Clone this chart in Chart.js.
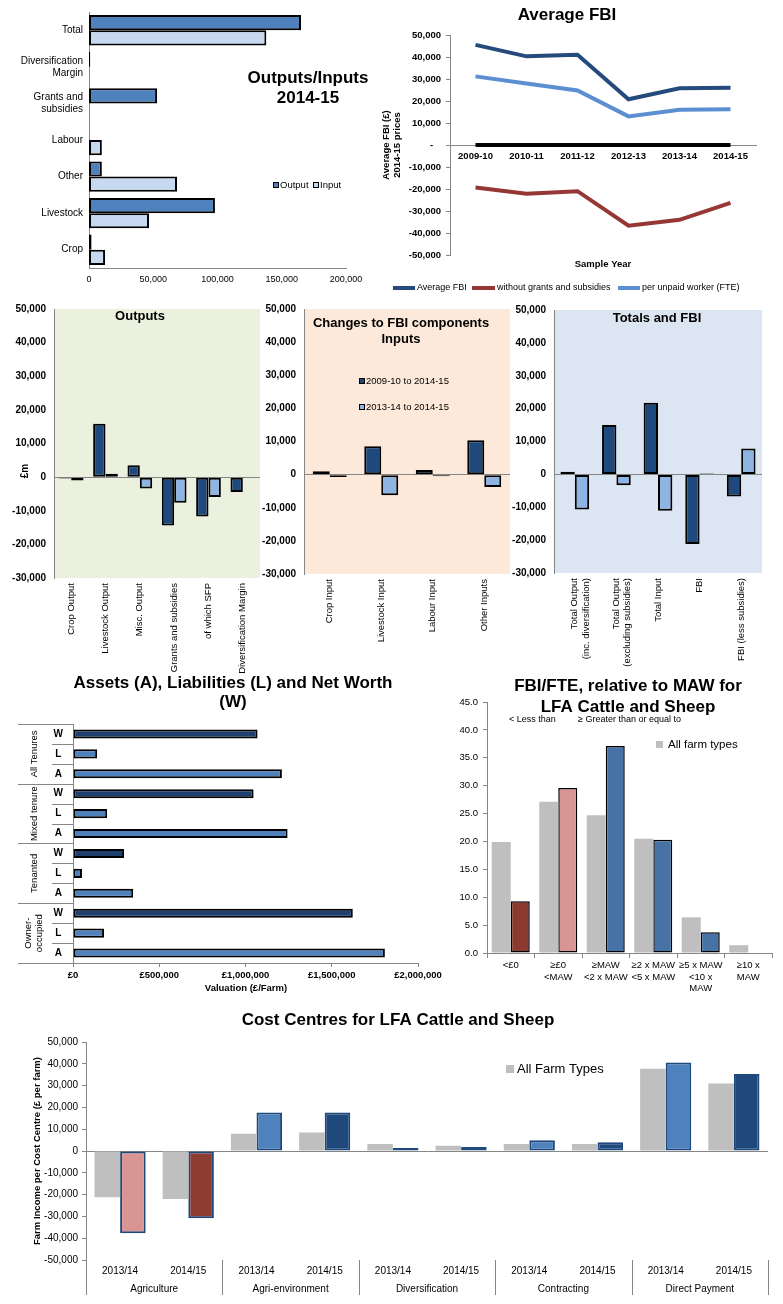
<!DOCTYPE html>
<html lang="en">
  <head>
    <meta charset="UTF-8" />
    <title>LFA Cattle and Sheep - farm business summary</title>
    <style>
      body { margin: 0; background: #fff; }
      .page { position: relative; width: 783px; height: 1304px; overflow: hidden; }
      .page canvas { position: absolute; }
    </style>
  </head>
  <body>
    <div class="page">
      <canvas id="io" width="380" height="290" style="left:0;top:0"></canvas>
      <canvas id="fbi" width="403" height="296" style="left:380px;top:0"></canvas>
      <canvas id="chgOut" width="260" height="380" style="left:0;top:295px"></canvas>
      <canvas id="chgIn" width="256" height="380" style="left:256px;top:295px"></canvas>
      <canvas id="chgTot" width="275" height="380" style="left:508px;top:295px"></canvas>
      <canvas id="awl" width="450" height="330" style="left:0;top:672px"></canvas>
      <canvas id="maw" width="353" height="330" style="left:430px;top:672px"></canvas>
      <canvas id="cost" width="783" height="299" style="left:0;top:1005px"></canvas>
    </div>

    <script src="https://cdn.jsdelivr.net/npm/chart.js"></script>
    <script>
      // ---- data ----
      // Outputs/Inputs 2014-15
      const ioSeries = ["Output", "Input"];
      const ioLabels = ["Total", ["Diversification", "Margin"], ["Grants and", "subsidies"], "Labour", "Other", "Livestock", "Crop"];
      const ioOutput = [165000, 1000, 53000, null, 10000, 98000, 2000];
      const ioInput = [138000, null, null, 10000, 68500, 46700, 12500];

      // Average FBI
      const fbiSeries = ["Average FBI", "without grants and subsidies", "per unpaid worker (FTE)"];
      const fbiYears = ["2009-10", "2010-11", "2011-12", "2012-13", "2013-14", "2014-15"];
      const fbiAverage = [45500, 40300, 41000, 20800, 25800, 26000];
      const fbiNoGrants = [-19300, -22200, -21000, -36700, -34000, -26300];
      const fbiPerWorker = [31200, 28000, 24800, 13000, 16000, 16300];
      const fbiZero = [0, 0, 0, 0, 0, 0];

      // Changes to FBI components
      const chgSeries = ["2009-10 to 2014-15", "2013-14 to 2014-15"];
      const outLabels = ["Crop Output", "Livestock Output", "Misc. Output", "Grants and subsidies", "of which SFP", "Diversification Margin"];
      const outLong = [-400, 15900, 3500, -14400, -11700, -4400];
      const outShort = [-1000, 1000, -3400, -7600, -5900, null];
      const inLabels = ["Crop Input", "Livestock Input", "Labour Input", "Other Inputs"];
      const inLong = [1000, 8600, 1400, 10400];
      const inShort = [-700, -6200, -500, -3700];
      const totLabels = [["Total Output", "(inc. diversification)"], ["Total Output", "(excluding subsidies)"], "Total Input", "FBI", "FBI (less subsidies)"];
      const totLong = [800, 15000, 21800, -21200, -6700];
      const totShort = [-10700, -3300, -11100, 300, 7900];

      // Assets, Liabilities and Net Worth
      const tenures = ["All Tenures", "Mixed tenure", "Tenanted", ["Owner-", "occupied"]];
      const awlRows = ["W", "L", "A"];
      const netWorth = [1070000, 1047000, 296000, 1622000];
      const liabilities = [140000, 198000, 52000, 180000];
      const assets = [1211000, 1244000, 349000, 1808000];

      // FBI/FTE relative to MAW
      const mawSeries = ["All farm types", "LFA Cattle and Sheep"];
      const mawBands = ["<£0", ["≥£0", "<MAW"], ["≥MAW", "<2 x MAW"], ["≥2 x MAW", "<5 x MAW"], ["≥5 x MAW", "<10 x", "MAW"], ["≥10 x", "MAW"]];
      const mawAllFarms = [19.9, 27.1, 24.7, 20.5, 6.4, 1.4];
      const mawLfa = [9.3, 29.6, 37.1, 20.3, 3.7, null];

      // Cost centres
      const ccSeries = ["All Farm Types", "LFA Cattle and Sheep"];
      const centres = ["Agriculture", "Agri-environment", "Diversification", "Contracting", "Direct Payment"];
      const ccYears = ["2013/14", "2014/15"];
      const ccAllFarms = [-21200, -22000, 7900, 8500, 3200, 2400, 3200, 3200, 37700, 31000];
      const ccLfa = [-37700, -30800, 17700, 17700, 1400, 1800, 4900, 4000, 40600, 35300];

      // ---- common setup ----
      const FONT = "'Liberation Sans', Arial, sans-serif";
      const AXIS = "#868686";
      Chart.defaults.font.family = FONT;
      Chart.defaults.font.size = 10;
      Chart.defaults.color = "#000";
      Chart.defaults.animation = false;
      Chart.defaults.plugins.legend.display = false;
      Chart.defaults.plugins.tooltip.enabled = false;

      const fmt = (v) => v.toLocaleString("en-US");

      // free text, swatches and lines (titles, legends) in canvas coords
      const notesPlugin = {
        id: "notes",
        afterDraw(chart, args, opts) {
          const ctx = chart.ctx;
          (opts.items || []).forEach((it) => {
            ctx.save();
            if (it.rect) {
              const [x, y, w, h] = it.rect;
              ctx.fillStyle = it.fill;
              ctx.fillRect(x, y, w, h);
              if (it.stroke) {
                ctx.strokeStyle = it.stroke;
                ctx.lineWidth = 1;
                ctx.strokeRect(x + 0.5, y + 0.5, w - 1, h - 1);
              }
            }
            if (it.line) {
              const [x1, y1, x2, y2] = it.line;
              ctx.strokeStyle = it.color;
              ctx.lineWidth = it.width || 1;
              ctx.beginPath();
              ctx.moveTo(x1, y1);
              ctx.lineTo(x2, y2);
              ctx.stroke();
            }
            if (it.text) {
              const size = it.size || 10;
              ctx.font = (it.bold ? "bold " : "") + size + "px " + FONT;
              ctx.fillStyle = it.color || "#000";
              ctx.textAlign = it.align || "left";
              ctx.textBaseline = "middle";
              ctx.translate(it.x, it.y);
              if (it.rot) ctx.rotate((it.rot * Math.PI) / 180);
              const lines = [].concat(it.text);
              const lh = it.lh || size * 1.2;
              lines.forEach((l, i) => ctx.fillText(l, 0, (i - (lines.length - 1) / 2) * lh));
            }
            ctx.restore();
          });
        },
      };

      const plotBgPlugin = {
        id: "plotBg",
        beforeDraw(chart, args, opts) {
          if (!opts.color) return;
          const a = chart.chartArea;
          chart.ctx.save();
          chart.ctx.fillStyle = opts.color;
          chart.ctx.fillRect(a.left, a.top, a.width, a.height);
          chart.ctx.restore();
        },
      };

      Chart.register(notesPlugin, plotBgPlugin);

      // ---- Outputs/Inputs 2014-15 ----
      new Chart(document.getElementById("io"), {
        type: "bar",
        data: {
          labels: ioLabels,
          datasets: [
            { label: ioSeries[0], data: ioOutput, backgroundColor: "#4F81BD" },
            { label: ioSeries[1], data: ioInput, backgroundColor: "#C6D9F1" },
          ],
        },
        options: {
          indexAxis: "y",
          responsive: false,
          layout: { padding: { top: 7, right: 34, left: 0, bottom: 0 } },
          datasets: {
            bar: { categoryPercentage: 0.83, barPercentage: 1, borderColor: "#000", borderWidth: 2, borderSkipped: false },
          },
          scales: {
            x: {
              min: 0,
              max: 200000,
              ticks: { stepSize: 50000, font: { size: 9 }, padding: 6, callback: fmt },
              grid: { display: false, drawTicks: false },
              border: { color: AXIS },
              afterFit: (s) => { s.height = 22; },
            },
            y: {
              ticks: { font: { size: 10 }, padding: 6, autoSkip: false },
              grid: { display: false, drawTicks: false },
              border: { color: AXIS },
              afterFit: (s) => { s.width = 89; },
            },
          },
          plugins: {
            notes: {
              items: [
                { text: ["Outputs/Inputs", "2014-15"], x: 308, y: 88, size: 17, bold: true, align: "center", lh: 20 },
                { rect: [273, 182, 6, 6], fill: "#4F81BD", stroke: "#000" },
                { text: ioSeries[0], x: 280, y: 185.5, size: 9.5 },
                { rect: [313, 182, 6, 6], fill: "#C6D9F1", stroke: "#000" },
                { text: ioSeries[1], x: 320, y: 185.5, size: 9.5 },
              ],
            },
          },
        },
      });

      // ---- Average FBI ----
      const fbiColors = ["#254A7C", "#953735", "#5B8FD2"];
      new Chart(document.getElementById("fbi"), {
        type: "line",
        data: {
          labels: fbiYears,
          datasets: [
            { label: fbiSeries[0], data: fbiAverage, borderColor: fbiColors[0], borderWidth: 4 },
            { label: fbiSeries[1], data: fbiNoGrants, borderColor: fbiColors[1], borderWidth: 4 },
            { label: fbiSeries[2], data: fbiPerWorker, borderColor: fbiColors[2], borderWidth: 4 },
            { label: "zero", data: fbiZero, borderColor: "#000", borderWidth: 4 },
          ],
        },
        options: {
          responsive: false,
          elements: { point: { radius: 0 }, line: { tension: 0 } },
          layout: { padding: { top: 35, right: 27, left: 0, bottom: 41 } },
          scales: {
            x: {
              position: { y: 0 },
              offset: true,
              grid: { display: false, drawTicks: false },
              border: { color: AXIS },
              ticks: { font: { size: 9.5, weight: "bold" }, padding: 6 },
            },
            y: {
              min: -50000,
              max: 50000,
              ticks: {
                stepSize: 10000,
                font: { size: 9.5, weight: "bold" },
                padding: 5,
                callback: (v) => (v === 0 ? "-   " : fmt(v)),
              },
              grid: { drawOnChartArea: false, tickLength: 4, color: AXIS },
              border: { color: AXIS },
              afterFit: (s) => { s.width = 70; },
            },
          },
          plugins: {
            notes: {
              items: [
                { text: "Average FBI", x: 187, y: 15, size: 17, bold: true, align: "center" },
                { text: ["Average FBI (£)", "2014-15 prices"], x: 12, y: 145, size: 9.5, bold: true, rot: -90, align: "center", lh: 10.5 },
                { text: "Sample Year", x: 223, y: 264, size: 9.5, bold: true, align: "center" },
                { line: [13, 288, 35, 288], color: fbiColors[0], width: 4 },
                { text: fbiSeries[0], x: 37, y: 288, size: 9 },
                { line: [92, 288, 115, 288], color: fbiColors[1], width: 4 },
                { text: fbiSeries[1], x: 117, y: 288, size: 9 },
                { line: [238, 288, 260, 288], color: fbiColors[2], width: 4 },
                { text: fbiSeries[2], x: 262, y: 288, size: 9 },
              ],
            },
          },
        },
      });

      // ---- Changes to FBI components (three panels) ----
      function changePanel(id, labels, longVals, shortVals, opt) {
        return new Chart(document.getElementById(id), {
          type: "bar",
          data: {
            labels: labels,
            datasets: [
              { label: chgSeries[0], data: longVals, backgroundColor: "#1F497D" },
              { label: chgSeries[1], data: shortVals, backgroundColor: "#8DB4E2" },
            ],
          },
          options: {
            responsive: false,
            layout: { padding: { top: opt.top, right: opt.right, left: 0, bottom: 0 } },
            datasets: {
              bar: { categoryPercentage: opt.cat, barPercentage: 1, borderColor: "#000", borderWidth: 2, borderSkipped: false },
            },
            scales: {
              x: {
                grid: { display: false, drawTicks: false },
                border: { display: false },
                ticks: { font: { size: 9.5 }, minRotation: 90, maxRotation: 90, autoSkip: false, padding: 5 },
                afterFit: (s) => { s.height = opt.xh; },
              },
              y: {
                min: -30000,
                max: 50000,
                ticks: { stepSize: 10000, font: { size: 10, weight: "bold" }, padding: 8, callback: fmt },
                grid: { drawTicks: false, color: (c) => (c.tick && c.tick.value === 0 ? AXIS : "transparent") },
                border: { color: AXIS },
                afterFit: (s) => { s.width = opt.yw; },
              },
            },
            plugins: { plotBg: { color: opt.bg }, notes: { items: opt.items } },
          },
        });
      }

      changePanel("chgOut", outLabels, outLong, outShort, {
        top: 11, right: 0, xh: 97, yw: 54, cat: 0.72, bg: "#EBF1DE",
        items: [
          { text: "Outputs", x: 140, y: 21, size: 13, bold: true, align: "center" },
          { text: "£m", x: 25, y: 176, size: 10, bold: true, rot: -90, align: "center" },
        ],
      });

      changePanel("chgIn", inLabels, inLong, inShort, {
        top: 14, right: 2, xh: 101, yw: 48, cat: 0.66, bg: "#FDE9D9",
        items: [
          { text: ["Changes to FBI components", "Inputs"], x: 145, y: 36, size: 13, bold: true, align: "center", lh: 16 },
          { rect: [103, 83, 6, 6], fill: "#1F497D", stroke: "#000" },
          { text: chgSeries[0], x: 110, y: 86, size: 9.5 },
          { rect: [103, 109, 6, 6], fill: "#8DB4E2", stroke: "#000" },
          { text: chgSeries[1], x: 110, y: 112, size: 9.5 },
        ],
      });

      changePanel("chgTot", totLabels, totLong, totShort, {
        top: 15, right: 21, xh: 102, yw: 46, cat: 0.69, bg: "#DCE6F2",
        items: [{ text: "Totals and FBI", x: 149, y: 23, size: 13, bold: true, align: "center" }],
      });

      // ---- Assets (A), Liabilities (L) and Net Worth (W) ----
      const awlLabels = tenures.flatMap(() => awlRows);
      const awlValues = tenures.flatMap((t, i) => [netWorth[i], liabilities[i], assets[i]]);

      const tenureGroups = {
        id: "tenureGroups",
        afterDraw(chart) {
          const { ctx, chartArea } = chart;
          const y = chart.scales.y;
          const rowH = y.getPixelForValue(1) - y.getPixelForValue(0);
          ctx.save();
          ctx.strokeStyle = AXIS;
          ctx.lineWidth = 1;
          for (let r = 0; r <= awlLabels.length; r++) {
            const yy = Math.round(y.getPixelForValue(r) - rowH / 2) + 0.5;
            const x0 = r % awlRows.length === 0 ? 18 : 52;
            ctx.beginPath();
            ctx.moveTo(x0, yy);
            ctx.lineTo(chartArea.left, yy);
            ctx.stroke();
          }
          ctx.font = "9.5px " + FONT;
          ctx.fillStyle = "#000";
          ctx.textAlign = "center";
          ctx.textBaseline = "middle";
          tenures.forEach((t, g) => {
            const cy = y.getPixelForValue(g * awlRows.length + 1);
            const lines = [].concat(t);
            ctx.save();
            ctx.translate(34, cy);
            ctx.rotate(-Math.PI / 2);
            lines.forEach((l, i) => ctx.fillText(l, 0, (i - (lines.length - 1) / 2) * 11));
            ctx.restore();
          });
          ctx.restore();
        },
      };

      new Chart(document.getElementById("awl"), {
        type: "bar",
        data: {
          labels: awlLabels,
          datasets: [
            {
              label: "Valuation",
              data: awlValues,
              backgroundColor: awlLabels.map((r) => (r === "W" ? "#1F3F6E" : "#4F81BD")),
              borderColor: "#000",
              borderWidth: 2,
              borderSkipped: false,
            },
          ],
        },
        options: {
          indexAxis: "y",
          responsive: false,
          layout: { padding: { top: 52, right: 32, left: 0, bottom: 0 } },
          datasets: { bar: { categoryPercentage: 0.46, barPercentage: 1 } },
          scales: {
            x: {
              min: 0,
              max: 2000000,
              ticks: { stepSize: 500000, font: { size: 9.5, weight: "bold" }, padding: 3, callback: (v) => "£" + fmt(v) },
              grid: { drawOnChartArea: false, tickLength: 4, color: AXIS },
              border: { color: AXIS },
              afterFit: (s) => { s.height = 39; },
            },
            y: {
              ticks: { font: { size: 10, weight: "bold" }, padding: 10, crossAlign: "center", autoSkip: false },
              grid: { display: false, drawTicks: false },
              border: { color: AXIS },
              afterFit: (s) => { s.width = 73; },
            },
          },
          plugins: {
            notes: {
              items: [
                { text: ["Assets (A), Liabilities (L) and Net Worth", "(W)"], x: 233, y: 21, size: 17, bold: true, align: "center", lh: 19 },
                { text: "Valuation (£/Farm)", x: 246, y: 316, size: 9.5, bold: true, align: "center" },
              ],
            },
          },
        },
        plugins: [tenureGroups],
      });

      // ---- FBI/FTE relative to MAW ----
      new Chart(document.getElementById("maw"), {
        type: "bar",
        data: {
          labels: mawBands,
          datasets: [
            { label: mawSeries[0], data: mawAllFarms, backgroundColor: "#BFBFBF", borderWidth: 0 },
            {
              label: mawSeries[1],
              data: mawLfa,
              backgroundColor: ["#8B3A2F", "#D99594", "#4672A6", "#4672A6", "#4672A6", "#4672A6"],
              borderColor: "#000",
              borderWidth: 1.5,
              borderSkipped: false,
            },
          ],
        },
        options: {
          responsive: false,
          layout: { padding: { top: 30, right: 11, left: 0, bottom: 0 } },
          datasets: { bar: { categoryPercentage: 0.8, barPercentage: 1 } },
          scales: {
            x: {
              ticks: { font: { size: 9.5 }, padding: 2, minRotation: 0, maxRotation: 0, autoSkip: false },
              grid: { drawOnChartArea: false, tickLength: 5, color: AXIS },
              border: { color: AXIS },
              afterFit: (s) => { s.height = 49; },
            },
            y: {
              min: 0,
              max: 45,
              ticks: { stepSize: 5, font: { size: 9.5 }, padding: 5, callback: (v) => v.toFixed(1) },
              grid: { drawOnChartArea: false, tickLength: 4, color: AXIS },
              border: { color: AXIS },
              afterFit: (s) => { s.width = 57; },
            },
          },
          plugins: {
            notes: {
              items: [
                { text: ["FBI/FTE, relative to MAW for", "LFA Cattle and Sheep"], x: 198, y: 25, size: 17, bold: true, align: "center", lh: 20.5 },
                { text: "< Less than", x: 79, y: 48, size: 9 },
                { text: "≥ Greater than or equal to", x: 148, y: 48, size: 9 },
                { rect: [226, 69, 7, 7], fill: "#BFBFBF" },
                { text: mawSeries[0], x: 238, y: 72.5, size: 11.5 },
              ],
            },
          },
        },
      });

      // ---- Cost Centres for LFA Cattle and Sheep ----
      const ccLabels = centres.flatMap(() => ccYears);

      const centreGroups = {
        id: "centreGroups",
        afterDraw(chart) {
          const { ctx, chartArea } = chart;
          const x = chart.scales.x;
          const step = x.getPixelForValue(1) - x.getPixelForValue(0);
          const n = ccYears.length;
          ctx.save();
          ctx.strokeStyle = AXIS;
          ctx.lineWidth = 1;
          ctx.font = "10px " + FONT;
          ctx.fillStyle = "#000";
          ctx.textAlign = "center";
          ctx.textBaseline = "middle";
          const sepAt = (px) => {
            const xx = Math.round(px) + 0.5;
            ctx.beginPath();
            ctx.moveTo(xx, chartArea.bottom);
            ctx.lineTo(xx, chartArea.bottom + 35);
            ctx.stroke();
          };
          centres.forEach((name, g) => {
            const first = x.getPixelForValue(g * n);
            const last = x.getPixelForValue(g * n + n - 1);
            ctx.fillText(name, (first + last) / 2, chartArea.bottom + 29);
            sepAt(first - step / 2);
          });
          sepAt(chartArea.right);
          ctx.restore();
        },
      };

      new Chart(document.getElementById("cost"), {
        type: "bar",
        data: {
          labels: ccLabels,
          datasets: [
            { label: ccSeries[0], data: ccAllFarms, backgroundColor: "#BFBFBF", borderWidth: 0 },
            {
              label: ccSeries[1],
              data: ccLfa,
              backgroundColor: ["#D99594", "#8E3B32", "#4F81BD", "#1F497D", "#4F81BD", "#1F497D", "#4F81BD", "#1F497D", "#4F81BD", "#1F497D"],
              borderColor: "#1F497D",
              borderWidth: 2,
              borderSkipped: false,
            },
          ],
        },
        options: {
          responsive: false,
          layout: { padding: { top: 37, right: 15, left: 0, bottom: 0 } },
          datasets: { bar: { categoryPercentage: 0.75, barPercentage: 1 } },
          scales: {
            x: {
              ticks: { font: { size: 10 }, padding: 5, maxRotation: 0, autoSkip: false },
              grid: { display: false, drawTicks: false },
              border: { display: false },
              afterFit: (s) => { s.height = 44; },
            },
            y: {
              min: -50000,
              max: 50000,
              ticks: { stepSize: 10000, font: { size: 10 }, padding: 4, callback: fmt },
              grid: {
                tickLength: 4,
                tickColor: AXIS,
                color: (c) => (c.tick && c.tick.value === 0 ? AXIS : "transparent"),
              },
              border: { color: AXIS },
              afterFit: (s) => { s.width = 86; },
            },
          },
          plugins: {
            notes: {
              items: [
                { text: "Cost Centres for LFA Cattle and Sheep", x: 398, y: 15, size: 17, bold: true, align: "center" },
                { text: "Farm Income per Cost Centre (£ per farm)", x: 37, y: 146, size: 9.5, bold: true, rot: -90, align: "center" },
                { rect: [506, 60, 8, 8], fill: "#BFBFBF" },
                { text: ccSeries[0], x: 517, y: 64, size: 13 },
              ],
            },
          },
        },
        plugins: [centreGroups],
      });
    </script>
  </body>
</html>
